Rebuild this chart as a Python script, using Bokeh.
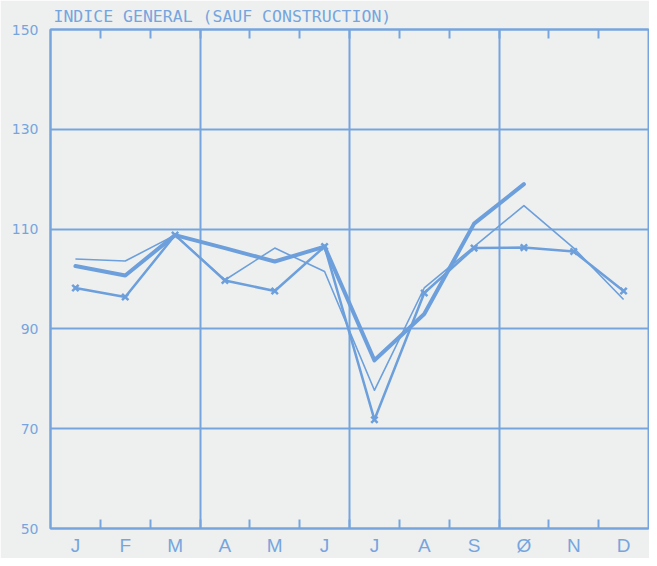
import math
from bokeh.plotting import figure
from bokeh.models import FixedTicker, LinearAxis, Range1d
from bokeh.embed import file_html
from bokeh.resources import INLINE

NaN = float("nan")

# --- data ---
months = ["J", "F", "M", "A", "M", "J", "J", "A", "S", "Ø", "N", "D"]
series_thick = [102.6, 100.7, 108.8, 106.2, 103.5, 106.5, 83.7, 93.0, 111.1, 119.0, NaN, NaN]
series_thin = [104.0, 103.6, 108.8, 99.8, 106.2, 101.5, 77.7, 98.2, 106.5, 114.7, 106.2, 95.9]
series_marked = [98.2, 96.4, 108.8, 99.7, 97.6, 106.5, 71.8, 97.2, 106.2, 106.3, 105.5, 97.6]
y_ticks = [50, 70, 90, 110, 130, 150]
y_grid = [70, 90, 110, 130]
quarter_bounds = [3, 6, 9]
title_text = "INDICE GENERAL (SAUF CONSTRUCTION)"

BLUE = "#76a5de"
LINE = "#6c9fdb"
BG = "#eef0ef"

x_centers = [i + 0.5 for i in range(len(months))]
month_bounds = list(range(1, len(months)))

p = figure(width=649, height=558, output_backend="svg", toolbar_location=None,
           x_range=Range1d(0, 12), y_range=Range1d(50, 150),
           min_border_left=50, min_border_right=1, min_border_top=29, min_border_bottom=27)
p.background_fill_color = BG
p.border_fill_color = BG
p.outline_line_color = BLUE
p.outline_line_width = 2

# title
p.title.text = title_text
p.title.align = "left"
p.title.text_font = "DejaVu Sans Mono"
p.title.text_font_size = "16.5px"
p.title.text_font_style = "normal"
p.title.text_color = BLUE
p.title.offset = 3
p.title.standoff = 8

# y axis
ya = p.yaxis[0]
ya.ticker = FixedTicker(ticks=y_ticks)
ya.major_tick_in = 0
ya.major_tick_out = 0
ya.minor_tick_in = 0
ya.minor_tick_out = 0
ya.axis_line_color = BLUE
ya.axis_line_width = 2
ya.major_label_text_font = "DejaVu Sans"
ya.major_label_text_font_size = "14px"
ya.major_label_text_color = BLUE
ya.major_label_standoff = 12

# x axis (bottom)
xa = p.xaxis[0]
xa.ticker = FixedTicker(ticks=x_centers, minor_ticks=month_bounds)
xa.major_label_overrides = {x: m for x, m in zip(x_centers, months)}
xa.major_tick_in = 0
xa.major_tick_out = 0
xa.minor_tick_in = 9
xa.minor_tick_out = 0
xa.minor_tick_line_color = BLUE
xa.minor_tick_line_width = 2
xa.axis_line_color = BLUE
xa.axis_line_width = 2
xa.major_label_text_font = "Liberation Sans"
xa.major_label_text_font_size = "19px"
xa.major_label_text_line_height = 0.8
xa.major_label_text_color = BLUE
xa.major_label_standoff = 6

# top axis with ticks only
ta = LinearAxis(ticker=FixedTicker(ticks=[], minor_ticks=month_bounds))
ta.major_label_standoff = 0
ta.major_tick_in = 0
ta.major_tick_out = 0
ta.minor_tick_in = 9
ta.minor_tick_out = 0
ta.minor_tick_line_color = BLUE
ta.minor_tick_line_width = 2
ta.axis_line_color = BLUE
ta.axis_line_width = 2
p.add_layout(ta, "above")

# grids
p.ygrid.ticker = FixedTicker(ticks=y_grid)
p.ygrid.grid_line_color = BLUE
p.ygrid.grid_line_width = 2
p.xgrid.ticker = FixedTicker(ticks=quarter_bounds)
p.xgrid.grid_line_color = BLUE
p.xgrid.grid_line_width = 2

# series
p.line(x_centers, series_thin, line_color=LINE, line_width=1.6, line_join="round")
p.line(x_centers, series_marked, line_color=LINE, line_width=2.5, line_join="round")
p.scatter(x_centers, series_marked, marker="x", size=9, line_color=LINE, line_width=2.5)
p.line(x_centers, series_thick, line_color=LINE, line_width=4, line_join="round", line_cap="round")

open("out.html", "w").write(file_html(p, INLINE))
